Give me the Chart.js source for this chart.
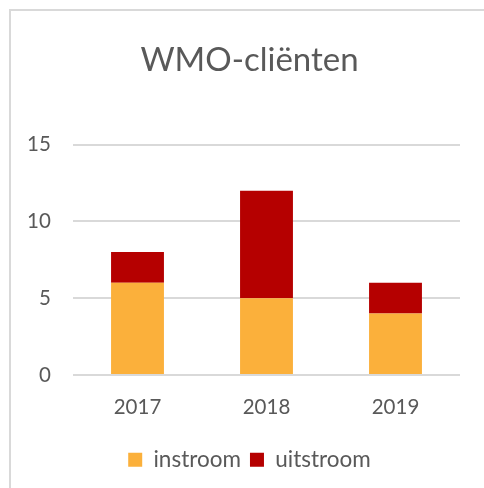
<!DOCTYPE html>
<html>
<head>
<meta charset="utf-8">
<script src="https://cdn.jsdelivr.net/npm/chart.js@4"></script>
<style>
  html, body { margin: 0; padding: 0; background: #fff; }
  #frame {
    position: absolute; left: 9px; top: 9px; width: 475px; height: 479px;
    border-top: 2px solid #d9d9d9; border-left: 2px solid #d9d9d9;
    box-sizing: border-box;
  }
  #wrap { position: absolute; left: 0; top: 0; width: 473px; height: 477px; }
</style>
</head>
<body>
<div id="frame">
  <div id="wrap"><canvas id="wmoChart"></canvas></div>
</div>
<script>
var years = ["2017", "2018", "2019"];
var instroom = [6, 5, 4];
var uitstroom = [2, 7, 2];
var yTicks = [0, 5, 10, 15];

var textColor = "#595959";
var gridColor = "#d9d9d9";

var chart = new Chart("wmoChart", {
  type: "bar",
  data: {
    labels: years,
    datasets: [
      {
        label: "instroom",
        data: instroom,
        backgroundColor: "#fbb03b",
        barPercentage: 0.41,
        categoryPercentage: 1
      },
      {
        label: "uitstroom",
        data: uitstroom,
        backgroundColor: "#b50000",
        barPercentage: 0.41,
        categoryPercentage: 1
      }
    ]
  },
  options: {
    responsive: true,
    maintainAspectRatio: false,
    animation: false,
    layout: { padding: { left: 28, right: 24, top: 24, bottom: 7 } },
    plugins: {
      title: {
        display: true,
        text: "WMO-cliënten",
        color: textColor,
        font: { family: "Lato", size: 33, weight: "normal" },
        padding: { top: 6, bottom: 64 }
      },
      legend: {
        position: "bottom",
        labels: {
          color: textColor,
          font: { family: "Lato", size: 22.5 },
          boxWidth: 14,
          boxHeight: 14,
          padding: 9
        }
      },
      tooltip: { enabled: false }
    },
    scales: {
      x: {
        stacked: true,
        grid: { display: false, drawTicks: false },
        border: { display: false },
        ticks: { color: textColor, font: { family: "Lato", size: 20.5 }, padding: 20 }
      },
      y: {
        stacked: true,
        min: 0,
        max: 15,
        afterBuildTicks: function (axis) {
          axis.ticks = yTicks.map(function (v) { return { value: v }; });
        },
        afterFit: function (axis) { axis.width = 34; },
        grid: { color: gridColor, lineWidth: 2, drawTicks: false },
        border: { display: false },
        ticks: {
          color: textColor,
          font: { family: "Lato", size: 20.5 },
          mirror: true,
          crossAlign: "far",
          padding: -46
        }
      }
    }
  }
});
</script>
</body>
</html>
